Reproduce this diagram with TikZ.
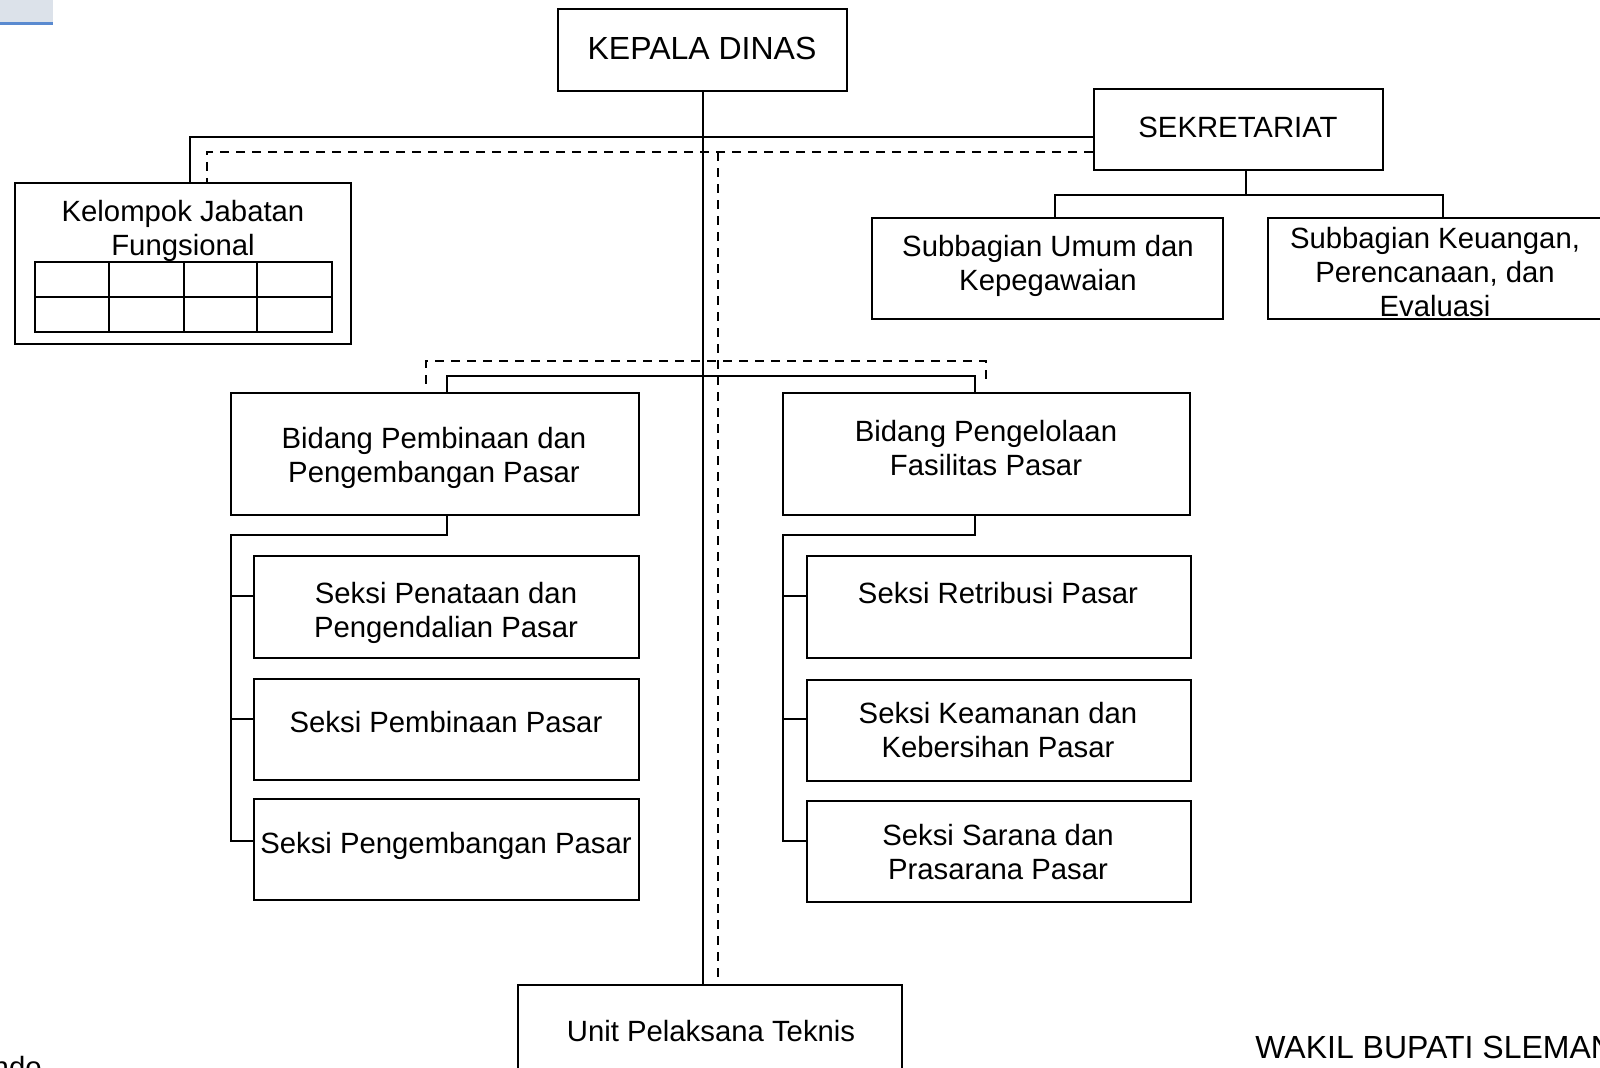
\documentclass[tikz,border=0pt]{standalone}
\usepackage{fontspec}
\setmainfont{Liberation Sans}
\definecolor{tabfill}{HTML}{DCE2EA}
\definecolor{tabline}{HTML}{5A8AD0}
\begin{document}
\begin{tikzpicture}[x=0.5pt,y=-0.5pt,
  box/.style={draw=black, line width=1pt, inner sep=0pt, rectangle},
  txt/.style={inner sep=0pt, align=center, font=\fontsize{14.65}{16.85}\selectfont},
  bigtxt/.style={inner sep=0pt, align=center, font=\fontsize{16}{18.4}\selectfont},
  conn/.style={draw=black, line width=1pt},
  dconn/.style={draw=black, line width=1pt, dash pattern=on 4.5pt off 3.5pt}]
\useasboundingbox (0,0) rectangle (1600,1068);
\clip (0,0) rectangle (1600,1068);
% top-left tab
\fill[tabfill] (0,0) rectangle (53,24);
\draw[tabline, line width=1.5pt] (0,24) -- (53,24);
% boxes
\node[box, minimum width=144.5pt, minimum height=41pt] (kepala) at (702.5,50) {};
\node[box, minimum width=144.5pt, minimum height=40.75pt] (sek) at (1238.5,129.75) {};
\node[box, minimum width=168pt, minimum height=80.5pt] (kel) at (183,263.5) {};
\node[box, minimum width=175.25pt, minimum height=50.5pt] (umum) at (1047.25,268.5) {};
\node[box, minimum width=168.75pt, minimum height=50.5pt] (keu) at (1436.25,268.5) {};
\node[box, minimum width=204pt, minimum height=60.75pt] (bidL) at (434.5,454.25) {};
\node[box, minimum width=203.75pt, minimum height=60.75pt] (bidR) at (986.25,454.25) {};
\node[box, minimum width=192.35pt, minimum height=50.9pt] (s1) at (446.65,607.4) {};
\node[box, minimum width=192.35pt, minimum height=50.25pt] (s2) at (446.65,729.25) {};
\node[box, minimum width=192.35pt, minimum height=50.5pt] (s3) at (446.65,849.5) {};
\node[box, minimum width=192.25pt, minimum height=50.9pt] (r1) at (998.75,607.4) {};
\node[box, minimum width=192.25pt, minimum height=50.25pt] (r2) at (998.75,730.25) {};
\node[box, minimum width=192.25pt, minimum height=50.5pt] (r3) at (998.75,851) {};
\node[box, minimum width=192pt, minimum height=67.75pt] (unit) at (710.3,1052.25) {};
% grid inside Kelompok box
\draw[line width=1pt] (34.5,262.3) rectangle (332.3,331.7);
\draw[line width=1pt] (34.5,296.7) -- (332.3,296.7);
\foreach \gx in {108.7,184,257} \draw[line width=1pt] (\gx,262.3) -- (\gx,331.7);
% texts
\node[bigtxt] (t-kepala) at (702,48) {KEPALA DINAS};
\node[txt] (t-sek) at (1238,127) {SEKRETARIAT};
\node[txt] (t-kel) at (183,231) {Kelompok Jabatan\\Fungsional};
\node[txt] (t-umum) at (1048,266) {Subbagian Umum dan\\Kepegawaian};
\node[txt] (t-keu) at (1435,272) {Subbagian Keuangan,\\Perencanaan, dan\\Evaluasi};
\node[txt] (t-bidL) at (434,458) {Bidang Pembinaan dan\\Pengembangan Pasar};
\node[txt] (t-bidR) at (986,448) {Bidang Pengelolaan\\Fasilitas Pasar};
\node[txt] (t-s1) at (446,613) {Seksi Penataan dan\\Pengendalian Pasar};
\node[txt] (t-s2) at (446,722) {Seksi Pembinaan Pasar};
\node[txt] (t-s3) at (446,846) {Seksi Pengembangan Pasar};
\node[txt] (t-r1) at (998,593) {Seksi Retribusi Pasar};
\node[txt] (t-r2) at (998,730) {Seksi Keamanan dan\\Kebersihan Pasar};
\node[txt] (t-r3) at (998,852) {Seksi Sarana dan\\Prasarana Pasar};
\node[txt] (t-unit) at (711,1031) {Unit Pelaksana Teknis};
\node[bigtxt, anchor=base west] (t-wakil) at (1255,1058) {WAKIL BUPATI SLEMAN};
\node[txt, anchor=base east] (t-ndo) at (42,1077) {ndo};
% coordinates
\coordinate (bs) at (190,136.7);
\coordinate (bd) at (206.5,152.3);
\coordinate (dtop) at (718,152.3);
\coordinate (sj) at (1245.7,195);
\coordinate (ua) at (1055.3,195);
\coordinate (ka) at (1443.3,195);
\coordinate (bl) at (446.7,375.7);
\coordinate (br) at (975,375.7);
\coordinate (dl) at (426,361);
\coordinate (dr) at (985.5,361);
\coordinate (dle) at (426,384);
\coordinate (dre) at (985.5,384);
\coordinate (lj) at (446.7,535.5);
\coordinate (lc) at (230.5,535.5);
\coordinate (rj) at (975,535.5);
\coordinate (rc) at (782.5,535.5);
\coordinate (lb1) at (230.5,596);
\coordinate (lb2) at (230.5,719);
\coordinate (lb3) at (230.5,841);
\coordinate (rb1) at (782.5,596);
\coordinate (rb2) at (782.5,719);
\coordinate (rb3) at (782.5,841);
% main spine
\draw[conn] (kepala.south) -- (kepala.south |- unit.north);
\draw[dconn] (dtop) -- (dtop |- unit.north);
% top line to Kelompok and Sekretariat
\draw[conn] (sek.west |- bs) -- (bs) -- (bs |- kel.north);
\draw[dconn] (sek.west |- bd) -- (bd) -- (bd |- kel.north);
% Sekretariat subtree
\draw[conn] (sj |- sek.south) -- (sj);
\draw[conn] (ua |- umum.north) -- (ua) -- (ka) -- (ka |- keu.north);
% Bidang buses
\draw[conn] (bl |- bidL.north) -- (bl) -- (br) -- (br |- bidR.north);
\draw[dconn] (dle) -- (dl) -- (dr) -- (dre);
% left subtree
\draw[conn] (lj |- bidL.south) -- (lj) -- (lc) -- (lb3) -- (lb3 -| s3.west);
\draw[conn] (lb1) -- (lb1 -| s1.west);
\draw[conn] (lb2) -- (lb2 -| s2.west);
% right subtree
\draw[conn] (rj |- bidR.south) -- (rj) -- (rc) -- (rb3) -- (rb3 -| r3.west);
\draw[conn] (rb1) -- (rb1 -| r1.west);
\draw[conn] (rb2) -- (rb2 -| r2.west);
\end{tikzpicture}
\end{document}
